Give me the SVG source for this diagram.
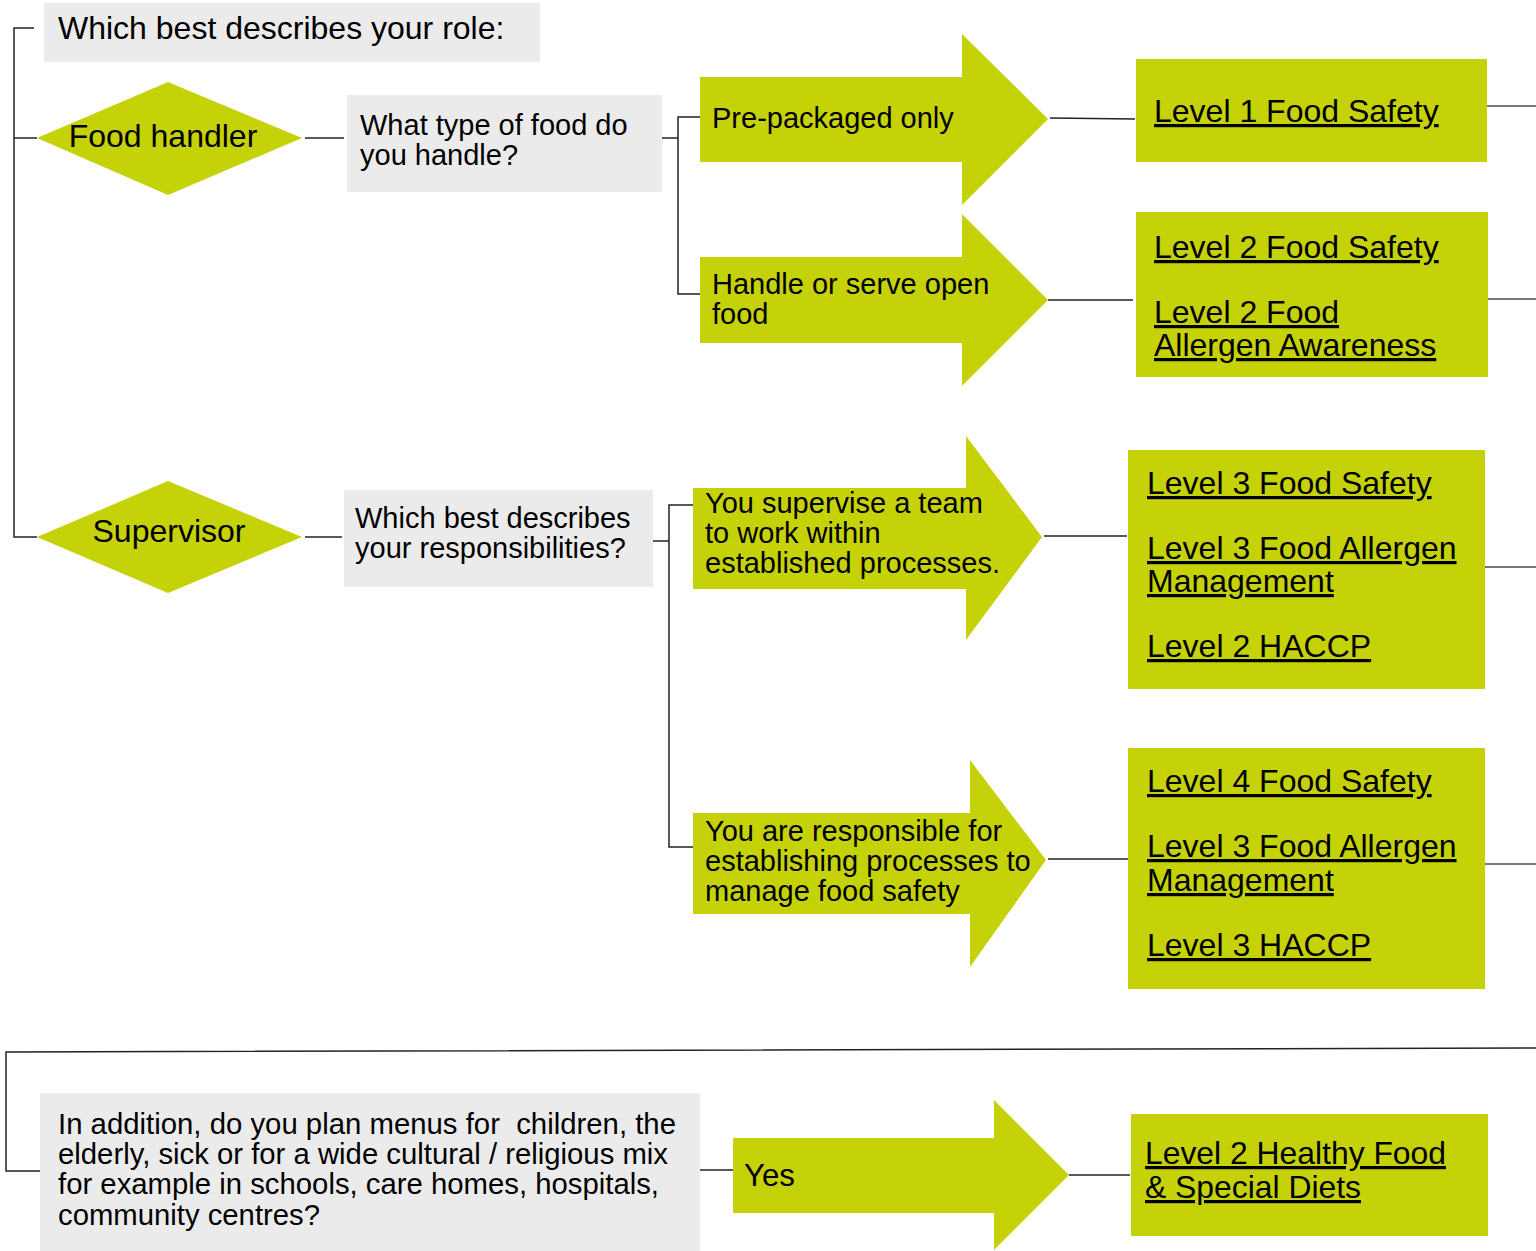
<svg xmlns="http://www.w3.org/2000/svg" width="1536" height="1251" viewBox="0 0 1536 1251">
<style>
.g{fill:#c5d207}
.q{fill:#ebebeb}
text{font-family:"Liberation Sans",Arial,sans-serif;fill:#000}
.t31{font-size:31px}
.t29{font-size:29px}
.t32{font-size:32px}
.t30{font-size:30px}
.u{text-decoration:underline}
.c{stroke:#222;stroke-width:1.5;fill:none}
.cg{stroke:#777;stroke-width:2;fill:none}
</style>
<rect width="1536" height="1251" fill="#fff"/>
<g id="connectors">
<polyline class="c" points="34,28 14,28 14,537 37,537"/>
<line class="c" x1="14" y1="138" x2="37" y2="138"/>
<line class="c" x1="305" y1="138" x2="344" y2="138"/>
<polyline class="c" points="662,138 678,138"/>
<polyline class="c" points="700,117 678,117 678,294 700,294"/>
<line class="c" x1="1050" y1="118" x2="1135" y2="119"/>
<line class="c" x1="1048" y1="300" x2="1133" y2="300"/>
<line class="cg" x1="1487" y1="106" x2="1536" y2="106"/>
<line class="cg" x1="1488" y1="299" x2="1536" y2="299"/>
<line class="c" x1="305" y1="537" x2="342" y2="537"/>
<line class="c" x1="653" y1="541" x2="669" y2="541"/>
<polyline class="c" points="693,505 669,505 669,847 693,847"/>
<line class="c" x1="1044" y1="536" x2="1127" y2="536"/>
<line class="c" x1="1048" y1="859" x2="1130" y2="859"/>
<line class="cg" x1="1485" y1="567" x2="1536" y2="567"/>
<line class="cg" x1="1485" y1="864" x2="1536" y2="864"/>
<polyline class="c" points="1536,1048 6,1052 6,1171 40,1171"/>
<line class="c" x1="700" y1="1170" x2="733" y2="1170"/>
<line class="c" x1="1069" y1="1175" x2="1130" y2="1175"/>
</g>
<g id="q-role">
<rect class="q" x="44" y="3" width="496" height="59"/>
<text class="t32" x="58" y="39">Which best describes your role:</text>
</g>
<g id="food-handler">
<polygon class="g" points="37,138 168,82 302,138 168,195"/>
<text class="t32" x="163" y="147" text-anchor="middle">Food handler</text>
</g>
<g id="q-food-type">
<rect class="q" x="347" y="95" width="315" height="97"/>
<text class="t29" x="360" y="135">What type of food do</text>
<text class="t29" x="360" y="165">you handle?</text>
</g>
<g id="opt-prepackaged">
<polygon class="g" points="700,77 962,77 962,34 1048,119 962,205 962,162 700,162"/>
<text class="t29" x="712" y="128">Pre-packaged only</text>
</g>
<g id="opt-open">
<polygon class="g" points="700,257 962,257 962,214 1048,300 962,386 962,343 700,343"/>
<text class="t29" x="712" y="294">Handle or serve open</text>
<text class="t29" x="712" y="324">food</text>
</g>
<g id="res-l1">
<rect class="g" x="1136" y="59" width="351" height="103"/>
<text class="t32 u" x="1154" y="122">Level 1 Food Safety</text>
</g>
<g id="res-l2">
<rect class="g" x="1136" y="212" width="352" height="165"/>
<text class="t32 u" x="1154" y="258">Level 2 Food Safety</text>
<text class="t32 u" x="1154" y="323">Level 2 Food</text>
<text class="t32 u" x="1154" y="356">Allergen Awareness</text>
</g>
<g id="supervisor">
<polygon class="g" points="37,537 168,481 302,537 168,593"/>
<text class="t32" x="169" y="542" text-anchor="middle">Supervisor</text>
</g>
<g id="q-responsibilities">
<rect class="q" x="344" y="490" width="309" height="97"/>
<text class="t29" x="355" y="528">Which best describes</text>
<text class="t29" x="355" y="558">your responsibilities?</text>
</g>
<g id="opt-supervise">
<polygon class="g" points="693,488 966,488 966,436 1042,537 966,640 966,589 693,589"/>
<text class="t29" x="705" y="513">You supervise a team</text>
<text class="t29" x="705" y="543">to work within</text>
<text class="t29" x="705" y="573">established processes.</text>
</g>
<g id="opt-establish">
<polygon class="g" points="693,813 970,813 970,760 1046,860 970,967 970,914 693,914"/>
<text class="t29" x="705" y="841">You are responsible for</text>
<text class="t29" x="705" y="871">establishing processes to</text>
<text class="t29" x="705" y="901">manage food safety</text>
</g>
<g id="res-l3">
<rect class="g" x="1128" y="450" width="357" height="239"/>
<text class="t32 u" x="1147" y="494">Level 3 Food Safety</text>
<text class="t32 u" x="1147" y="559">Level 3 Food Allergen</text>
<text class="t32 u" x="1147" y="592">Management</text>
<text class="t32 u" x="1147" y="657">Level 2 HACCP</text>
</g>
<g id="res-l4">
<rect class="g" x="1128" y="748" width="357" height="241"/>
<text class="t32 u" x="1147" y="792">Level 4 Food Safety</text>
<text class="t32 u" x="1147" y="857">Level 3 Food Allergen</text>
<text class="t32 u" x="1147" y="891">Management</text>
<text class="t32 u" x="1147" y="956">Level 3 HACCP</text>
</g>
<g id="q-menus">
<rect class="q" x="40" y="1093" width="660" height="158"/>
<text class="t30" x="58" y="1134" textLength="618" lengthAdjust="spacingAndGlyphs" xml:space="preserve">In addition, do you plan menus for  children, the</text>
<text class="t30" x="58" y="1164" textLength="610" lengthAdjust="spacingAndGlyphs">elderly, sick or for a wide cultural / religious mix</text>
<text class="t30" x="58" y="1194" textLength="601" lengthAdjust="spacingAndGlyphs">for example in schools, care homes, hospitals,</text>
<text class="t30" x="58" y="1225" textLength="262" lengthAdjust="spacingAndGlyphs">community centres?</text>
</g>
<g id="opt-yes">
<polygon class="g" points="733,1138 994,1138 994,1100 1069,1175 994,1250 994,1213 733,1213"/>
<text class="t32" x="744" y="1186" textLength="51" lengthAdjust="spacingAndGlyphs">Yes</text>
</g>
<g id="res-l5">
<rect class="g" x="1131" y="1114" width="357" height="122"/>
<text class="t32 u" x="1145" y="1164" textLength="301" lengthAdjust="spacingAndGlyphs">Level 2 Healthy Food</text>
<text class="t32 u" x="1145" y="1198" textLength="216" lengthAdjust="spacingAndGlyphs">&amp; Special Diets</text>
</g>
</svg>
